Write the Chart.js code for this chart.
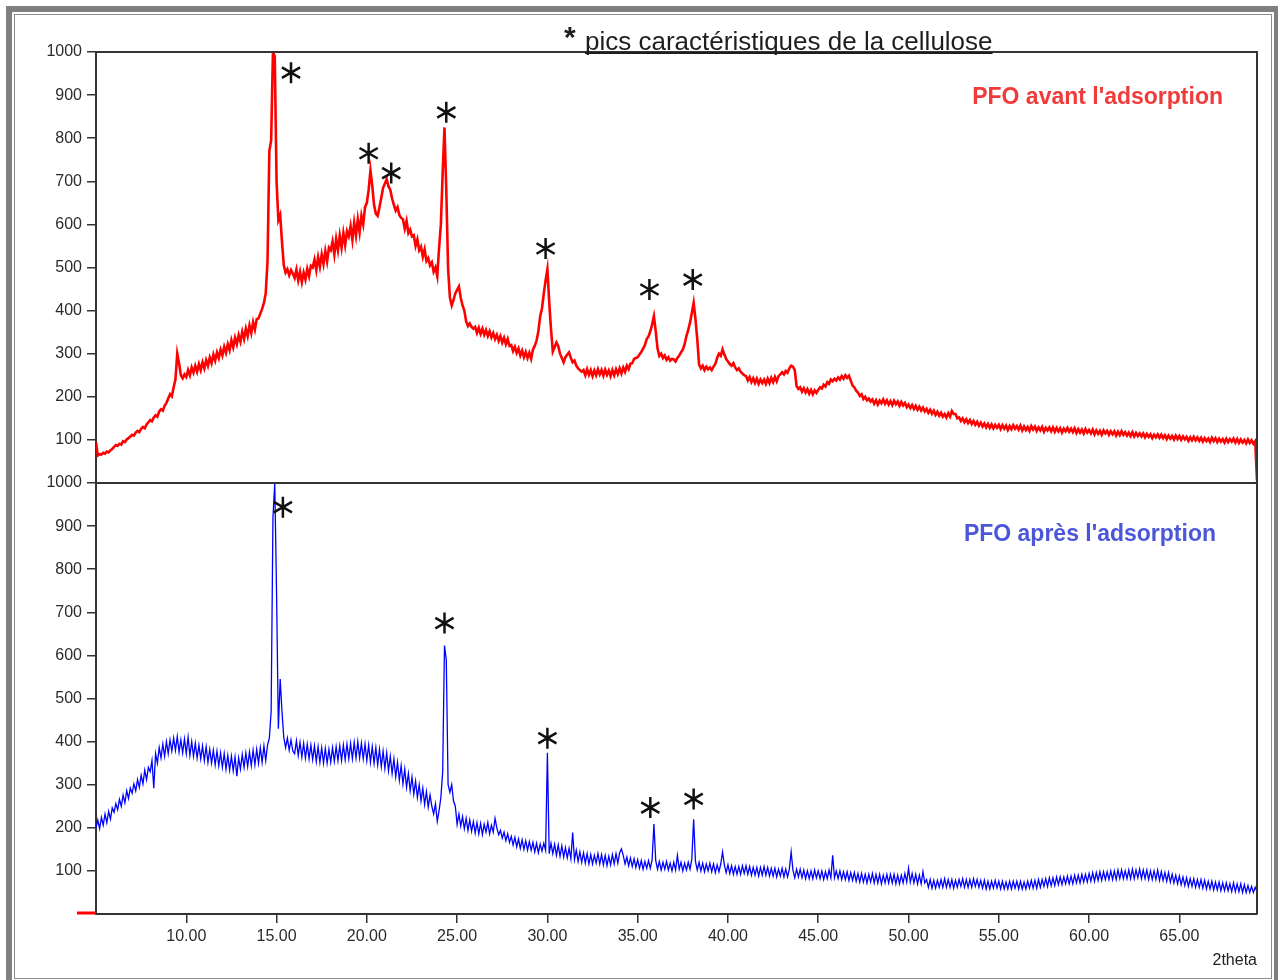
<!DOCTYPE html>
<html lang="fr">
<head>
<meta charset="utf-8">
<title>Diffractogrammes PFO</title>
<script src="https://cdn.jsdelivr.net/npm/chart.js@4.4.1/dist/chart.umd.min.js"></script>
<style>
  body { margin: 0; background: #fff; overflow: hidden; }
  #ombre { position: absolute; left: 6px; top: 6px; width: 1272px; height: 974px; background: #808080; }
  #fond { position: absolute; left: 12px; top: 12px; width: 1262px; height: 968px; background: #fff; }
  #filet { position: absolute; left: 14px; top: 14px; width: 1258px; height: 965px; box-sizing: border-box; border: 1px solid #8c8c8c; }
  #graphe { position: absolute; left: 0; top: 0; }
</style>
</head>
<body>
<div id="ombre"></div>
<div id="fond"></div>
<div id="filet"></div>
<canvas id="graphe" width="1278" height="980"></canvas>
<script>
// balayage 2theta : de 5.0 à 69.3 par pas de 0.1
const debut = 5.0;
const pas = 0.1;

// PFO avant l'adsorption (une ligne = 1 degré)
const intensiteAvant = [
  95, 64, 67, 66, 70, 68, 73, 71, 76, 79,
  84, 88, 86, 91, 89, 97, 95, 101, 104, 108,
  112, 110, 117, 121, 118, 126, 130, 127, 136, 141,
  146, 143, 152, 157, 154, 166, 171, 168, 179, 186,
  196, 206, 201, 222, 240, 300, 278, 250, 243, 252,
  246, 262, 250, 268, 256, 272, 258, 276, 262, 280,
  266, 285, 272, 291, 278, 298, 284, 303, 290, 309,
  296, 316, 302, 322, 308, 331, 315, 337, 322, 343,
  328, 351, 334, 358, 341, 366, 348, 373, 356, 380,
  382, 393, 404, 418, 440, 515, 770, 795, 1000, 990,
  700, 610, 622, 560, 505, 488, 496, 482, 494, 486,
  476, 495, 470, 490, 466, 488, 472, 497, 480, 504,
  500, 518, 494, 524, 502, 530, 508, 538, 514, 546,
  540, 560, 530, 566, 540, 574, 546, 580, 552, 584,
  572, 596, 564, 604, 574, 612, 582, 620, 600, 640,
  650, 680, 725, 690, 645, 625, 620, 640, 662, 685,
  695, 705, 688, 680, 660, 645, 632, 640, 622, 615,
  612, 590, 608, 580, 588, 572, 575, 550, 565, 540,
  548, 525, 542, 515, 522, 505, 512, 490, 500, 480,
  545, 600, 720, 825, 680, 498, 430, 412, 425, 440,
  448, 456, 430, 412, 400, 375, 364, 370, 362, 358,
  362, 348, 360, 346, 358, 344, 355, 341, 352, 338,
  348, 334, 344, 330, 341, 326, 337, 322, 334, 318,
  320, 306, 316, 302, 312, 296, 307, 292, 304, 290,
  302, 288, 310, 318, 330, 352, 387, 405, 440, 470,
  496, 420, 357, 305, 315, 326, 318, 300, 290, 280,
  292, 298, 303, 290, 280, 284, 272, 266, 262, 258,
  262, 250, 264, 251, 262, 248, 261, 250, 264, 252,
  262, 249, 263, 251, 261, 248, 262, 250, 264, 253,
  266, 254, 268, 258, 272, 264, 277, 278, 288, 290,
  292, 298, 304, 312, 320, 334, 340, 352, 368, 387,
  352, 312, 295, 300, 290, 296, 286, 292, 284, 288,
  287, 282, 290, 296, 303, 310, 322, 341, 355, 372,
  395, 418, 380, 334, 275, 266, 272, 262, 270, 264,
  268, 262, 270, 276, 290, 300, 295, 310, 298, 288,
  282, 276, 272, 278, 268, 262, 266, 258, 254, 250,
  248, 238, 246, 234, 243, 232, 242, 230, 240, 232,
  240, 230, 242, 232, 244, 234, 246, 236, 248, 252,
  257, 252, 260, 256, 266, 272, 270, 262, 225, 218,
  222, 212, 220, 210, 218, 207, 216, 206, 215, 209,
  216, 222, 219, 228, 224, 234, 230, 240, 236, 242,
  238, 245, 240, 248, 242, 250, 244, 249, 238, 226,
  222, 214, 210, 202, 206, 195, 200, 192, 196, 189,
  194, 184, 192, 182, 191, 185, 194, 184, 192, 182,
  190, 181, 191, 183, 189, 179, 188, 180, 186, 176,
  182, 174, 181, 172, 179, 170, 177, 168, 175, 166,
  172, 163, 170, 161, 168, 158, 165, 156, 163, 154,
  160, 152, 162, 154, 167, 160, 160, 150, 152, 144,
  150, 141, 148, 139, 146, 137, 144, 135, 142, 133,
  140, 131, 138, 129, 137, 128, 136, 127, 135, 128,
  135, 125, 134, 126, 133, 123, 132, 125, 134, 126,
  132, 124, 133, 122, 131, 123, 130, 121, 132, 124,
  131, 121, 129, 122, 130, 119, 128, 122, 129, 120,
  129, 119, 128, 120, 127, 117, 126, 120, 128, 119,
  126, 118, 127, 116, 125, 117, 124, 115, 125, 117,
  123, 115, 124, 113, 122, 114, 121, 112, 122, 115,
  121, 112, 120, 113, 120, 110, 119, 111, 120, 112,
  118, 110, 117, 109, 118, 108, 116, 109, 115, 108,
  115, 106, 114, 107, 113, 104, 112, 106, 113, 105,
  112, 104, 111, 102, 110, 103, 109, 101, 110, 102,
  109, 100, 108, 101, 107, 98, 106, 99, 107, 99,
  106, 98, 105, 96, 104, 97, 103, 95, 105, 97,
  104, 95, 103, 96, 102, 94, 103, 95, 102, 96,
  103, 94, 102, 93, 101, 94, 100, 92, 101, 93,
  99, 91, 97, 6
];

// PFO après l'adsorption
const intensiteApres = [
  200, 218, 198, 224, 206, 232, 212, 238, 220, 246,
  236, 256, 242, 266, 250, 276, 258, 286, 268, 292,
  280, 302, 286, 312, 294, 322, 302, 334, 312, 340,
  330, 356, 292, 372, 350, 386, 362, 394, 366, 400,
  372, 404, 378, 408, 380, 412, 376, 404, 374, 406,
  372, 410, 368, 400, 366, 396, 362, 392, 360, 390,
  356, 388, 352, 382, 350, 380, 346, 378, 344, 374,
  340, 372, 336, 368, 334, 366, 332, 364, 320, 362,
  336, 370, 340, 374, 342, 376, 344, 380, 346, 382,
  350, 386, 352, 390, 356, 392, 408, 470, 920, 1000,
  745, 430, 545, 470, 410, 386, 408, 380, 404, 378,
  372, 402, 368, 398, 364, 396, 362, 394, 360, 392,
  358, 390, 354, 388, 352, 386, 350, 384, 350, 382,
  352, 386, 354, 388, 356, 390, 356, 392, 358, 394,
  360, 396, 360, 398, 362, 400, 362, 396, 360, 394,
  356, 392, 352, 388, 350, 386, 346, 382, 342, 378,
  338, 374, 332, 366, 326, 360, 318, 352, 310, 344,
  302, 336, 294, 326, 286, 318, 278, 308, 270, 300,
  262, 292, 254, 284, 248, 276, 250, 232, 256, 215,
  240, 270, 330, 623, 590, 300, 282, 300, 262, 250,
  208, 232, 204, 226, 198, 222, 194, 218, 192, 214,
  188, 212, 186, 210, 184, 208, 190, 212, 186, 206,
  190, 222, 200, 184, 194, 176, 190, 170, 186, 166,
  180, 160, 178, 156, 174, 152, 172, 150, 170, 148,
  168, 148, 166, 144, 164, 142, 162, 146, 164, 148,
  374, 140, 164, 140, 162, 136, 160, 134, 158, 132,
  154, 130, 152, 128, 189, 126, 148, 122, 144, 120,
  142, 118, 140, 116, 138, 116, 136, 118, 140, 116,
  138, 114, 136, 112, 134, 114, 138, 116, 140, 118,
  142, 151, 136, 116, 132, 112, 130, 110, 128, 108,
  126, 106, 124, 104, 122, 106, 124, 106, 126, 209,
  124, 104, 122, 102, 120, 104, 122, 102, 118, 100,
  120, 102, 136, 104, 120, 100, 118, 102, 120, 104,
  128, 220, 122, 102, 120, 100, 118, 98, 116, 100,
  118, 98, 116, 96, 114, 98, 116, 144, 114, 96,
  114, 94, 112, 92, 110, 92, 110, 92, 112, 94,
  112, 92, 110, 90, 108, 90, 108, 88, 108, 90,
  110, 90, 108, 88, 106, 88, 106, 86, 104, 88,
  106, 86, 104, 86, 104, 144, 102, 84, 104, 86,
  104, 84, 102, 82, 100, 82, 100, 82, 102, 84,
  100, 82, 100, 80, 98, 82, 102, 84, 136, 84,
  100, 82, 100, 80, 98, 80, 98, 78, 96, 78,
  96, 76, 94, 74, 94, 74, 92, 72, 92, 74,
  94, 72, 92, 72, 92, 70, 90, 72, 92, 72,
  92, 72, 92, 70, 90, 70, 90, 72, 94, 74,
  106, 74, 94, 72, 92, 70, 90, 70, 98, 72,
  80, 62, 80, 60, 78, 60, 78, 62, 80, 62,
  82, 62, 80, 62, 80, 60, 78, 62, 80, 64,
  82, 62, 80, 62, 80, 62, 82, 64, 80, 62,
  78, 60, 78, 58, 76, 58, 76, 60, 78, 60,
  76, 58, 76, 58, 74, 58, 76, 58, 76, 60,
  76, 58, 76, 58, 74, 58, 76, 60, 78, 60,
  78, 60, 80, 62, 80, 64, 82, 64, 84, 66,
  84, 66, 86, 68, 86, 68, 86, 70, 88, 70,
  88, 70, 90, 72, 90, 72, 92, 74, 92, 74,
  94, 76, 96, 76, 96, 78, 98, 78, 98, 80,
  98, 80, 100, 80, 100, 80, 102, 82, 102, 82,
  100, 82, 102, 82, 104, 82, 102, 84, 104, 82,
  102, 82, 102, 80, 100, 80, 100, 80, 102, 78,
  98, 78, 96, 76, 96, 74, 92, 72, 90, 70,
  88, 68, 86, 66, 84, 64, 82, 64, 82, 62,
  80, 62, 80, 60, 78, 58, 76, 58, 76, 56,
  74, 56, 74, 54, 72, 54, 72, 54, 70, 52,
  72, 52, 70, 52, 70, 50, 68, 50, 66, 50,
  64, 50, 62, 52
];

const ticksX = [10, 15, 20, 25, 30, 35, 40, 45, 50, 55, 60, 65];
const ticksY = [100, 200, 300, 400, 500, 600, 700, 800, 900, 1000];

// pics de la cellulose repérés par une étoile (2theta, intensité)
const etoilesAvantX = [15.8, 20.1, 21.35, 24.4, 29.9, 35.65, 38.05];
const etoilesAvantY = [952, 765, 719, 860, 544, 449, 472];
const etoilesApresX = [15.35, 24.3, 30.0, 35.7, 38.1];
const etoilesApresY = [944, 675, 408, 247, 267];

const titre = "pics caractéristiques de la cellulose";
const legendeAvant = "PFO avant l'adsorption";
const legendeApres = "PFO après l'adsorption";

const enPoints = serie => serie.map((v, i) => ({ x: +(debut + i * pas).toFixed(1), y: v }));

Chart.defaults.font.family = '"Liberation Sans", Arial, sans-serif';
Chart.defaults.font.size = 16;

const axeY = {
  type: 'linear',
  position: 'left',
  stack: 'pfo',
  stackWeight: 1,
  min: 0,
  max: 1000,
  afterBuildTicks: axe => { axe.ticks = ticksY.map(v => ({ value: v })); },
  afterFit: axe => { axe.width = 96; },
  ticks: { color: '#2b2b2b', padding: 5, callback: v => String(v) },
  grid: { drawOnChartArea: false, tickLength: 9, color: '#333', lineWidth: 1.5 },
  border: { color: '#333', width: 2 }
};

function etoile(ctx, x, y) {
  const r = 10.5;
  ctx.beginPath();
  for (const a of [90, 30, -30]) {
    const dx = r * Math.cos(a * Math.PI / 180);
    const dy = r * Math.sin(a * Math.PI / 180);
    ctx.moveTo(x - dx, y - dy);
    ctx.lineTo(x + dx, y + dy);
  }
  ctx.stroke();
}

const decor = {
  id: 'decor',
  afterDraw(chart) {
    const { ctx, chartArea: z, scales } = chart;
    ctx.save();

    // cadre haut/droite et séparation des deux diagrammes
    ctx.strokeStyle = '#333';
    ctx.lineWidth = 2;
    ctx.beginPath();
    ctx.moveTo(z.left, z.top);
    ctx.lineTo(z.right, z.top);
    ctx.lineTo(z.right, z.bottom);
    ctx.moveTo(z.left, scales.yBas.top);
    ctx.lineTo(z.right, scales.yBas.top);
    ctx.stroke();

    // petit trait rouge en bas à gauche
    ctx.strokeStyle = '#ff0000';
    ctx.lineWidth = 3;
    ctx.beginPath();
    ctx.moveTo(z.left - 19, z.bottom - 1);
    ctx.lineTo(z.left, z.bottom - 1);
    ctx.stroke();

    // étoiles
    ctx.strokeStyle = '#111';
    ctx.lineWidth = 2.5;
    etoilesAvantX.forEach((v, i) => etoile(ctx, scales.x.getPixelForValue(v), scales.yHaut.getPixelForValue(etoilesAvantY[i])));
    etoilesApresX.forEach((v, i) => etoile(ctx, scales.x.getPixelForValue(v), scales.yBas.getPixelForValue(etoilesApresY[i])));

    // titre souligné
    ctx.fillStyle = '#1e1e1e';
    ctx.textAlign = 'left';
    ctx.textBaseline = 'alphabetic';
    ctx.font = 'bold 30px "Liberation Sans"';
    ctx.fillText('*', 564, 47);
    ctx.font = '26px "Liberation Sans"';
    ctx.fillText(titre, 585, 50);
    const w = ctx.measureText(titre).width;
    ctx.fillRect(585, 52, w, 2);

    // légendes
    ctx.font = 'bold 23px "Liberation Sans"';
    ctx.textAlign = 'right';
    ctx.fillStyle = '#f03b3b';
    ctx.fillText(legendeAvant, 1223, 104);
    ctx.fillStyle = '#4b57d8';
    ctx.fillText(legendeApres, 1216, 541);

    ctx.restore();
  }
};

new Chart(document.getElementById('graphe'), {
  type: 'line',
  data: {
    datasets: [
      {
        label: legendeAvant,
        data: enPoints(intensiteAvant),
        yAxisID: 'yHaut',
        borderColor: '#ff0000',
        borderWidth: 2.6,
        pointRadius: 0,
        tension: 0
      },
      {
        label: legendeApres,
        data: enPoints(intensiteApres),
        yAxisID: 'yBas',
        borderColor: '#0000ff',
        borderWidth: 1.3,
        pointRadius: 0,
        tension: 0
      }
    ]
  },
  options: {
    responsive: false,
    animation: false,
    devicePixelRatio: 1,
    events: [],
    layout: { padding: { left: 0, top: 52, right: 21, bottom: 10 } },
    plugins: { legend: { display: false }, tooltip: { enabled: false } },
    scales: {
      yBas: { ...axeY },
      yHaut: { ...axeY },
      x: {
        type: 'linear',
        position: 'bottom',
        min: 5.0,
        max: 69.3,
        afterBuildTicks: axe => { axe.ticks = ticksX.map(v => ({ value: v })); },
        afterFit: axe => { axe.height = 56; },
        ticks: { color: '#2b2b2b', padding: 4, callback: v => v.toFixed(2) },
        grid: { drawOnChartArea: false, tickLength: 9, color: '#333', lineWidth: 1.5 },
        border: { color: '#333', width: 2 },
        title: { display: true, text: '2theta', align: 'end', color: '#222', padding: { top: 0, bottom: 0 } }
      }
    }
  },
  plugins: [decor]
});
</script>
</body>
</html>
